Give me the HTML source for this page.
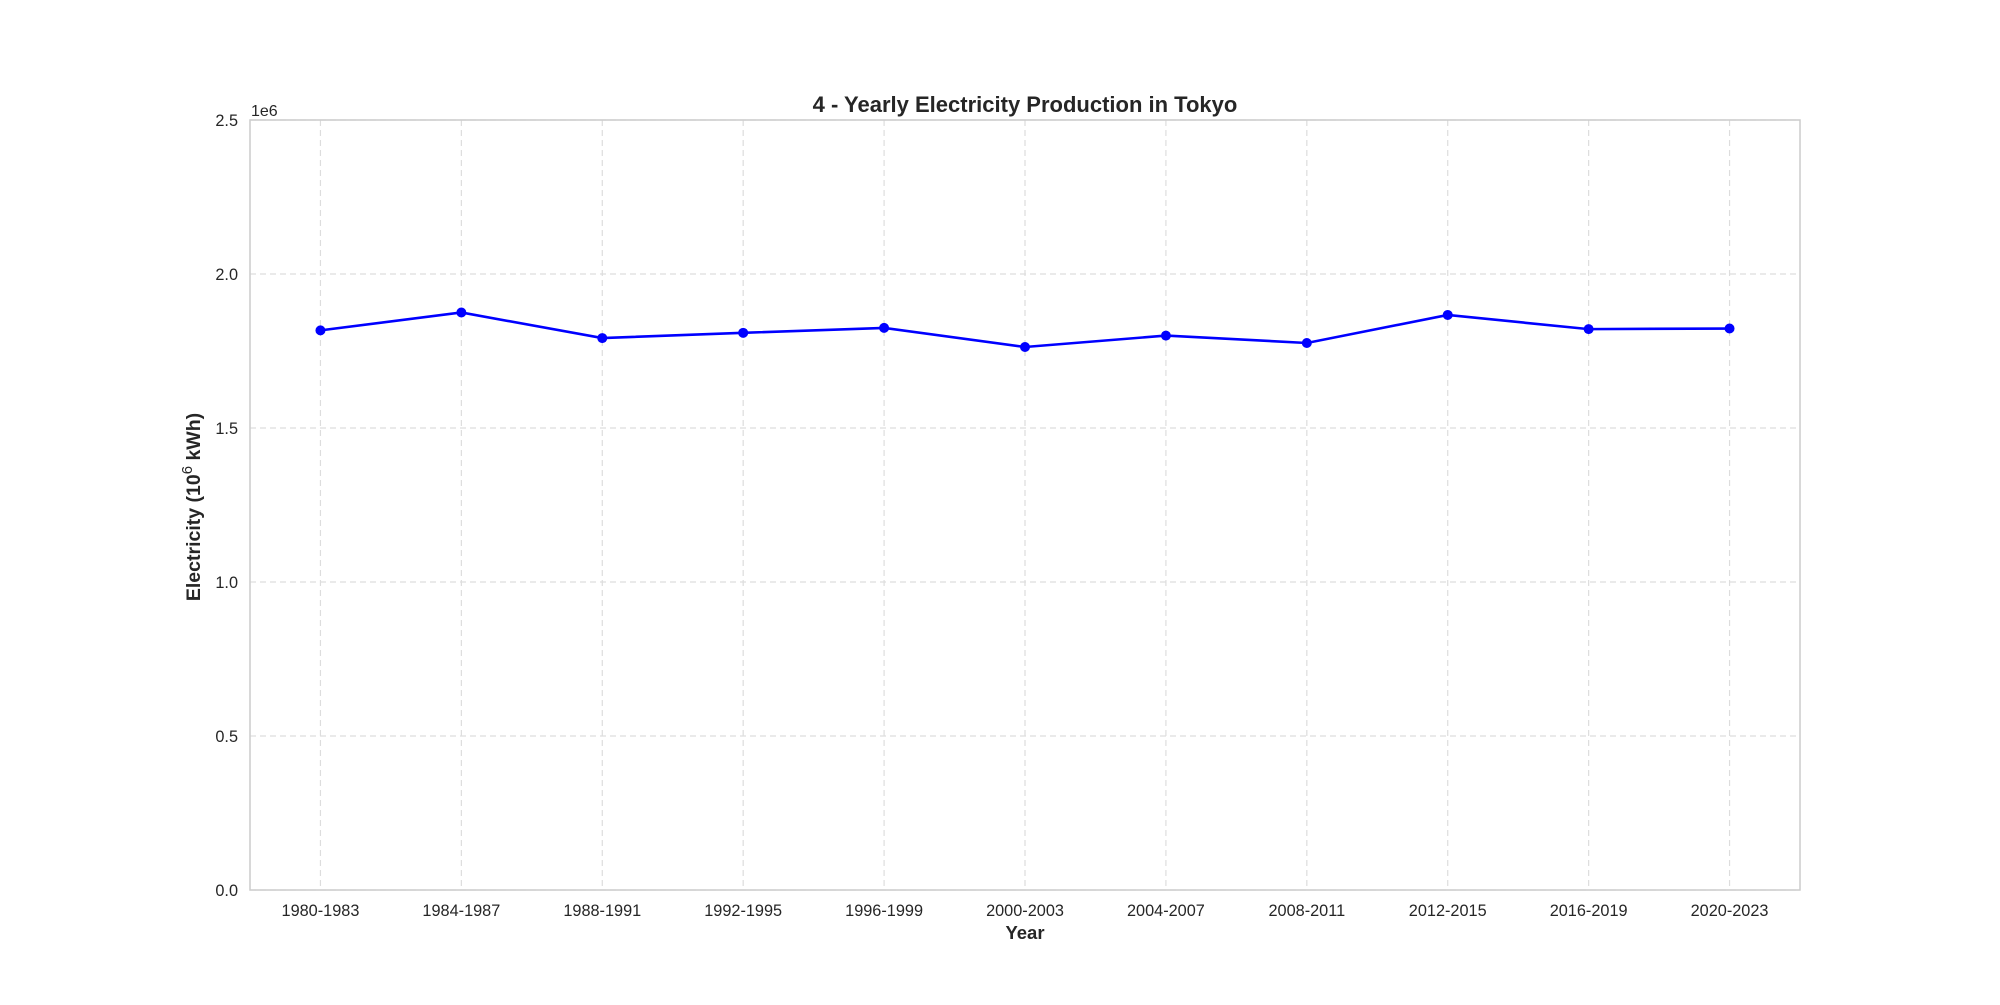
<!DOCTYPE html>
<html><head><meta charset="utf-8"><style>
body{margin:0;background:#fff;font-family:"Liberation Sans",Arial,sans-serif}
svg text{font-family:"Liberation Sans",Arial,sans-serif;fill:#262626}
</style></head><body>
<svg id="chart" width="2000" height="1000" xmlns="http://www.w3.org/2000/svg">
<rect width="2000" height="1000" fill="#fff"/>
<g id="grid"></g>
<g id="axes"></g>
<g id="series"></g>
<text x="1025" y="112" text-anchor="middle" font-size="22" font-weight="bold">4 - Yearly Electricity Production in Tokyo</text>
<text x="1025" y="939" text-anchor="middle" font-size="18.5" font-weight="bold">Year</text>
<text transform="translate(200,507) rotate(-90)" text-anchor="middle" font-size="19.5" font-weight="bold">Electricity (10<tspan dy="-8" font-size="15" font-weight="normal">6</tspan><tspan dy="8"> kWh)</tspan></text>
<text x="251" y="116" font-size="16">1e6</text>
</svg>
<script>
const categories=["1980-1983","1984-1987","1988-1991","1992-1995","1996-1999","2000-2003","2004-2007","2008-2011","2012-2015","2016-2019","2020-2023"];
const values=[1.817,1.875,1.792,1.809,1.825,1.763,1.800,1.776,1.867,1.821,1.823];
const yTicks=[0,0.5,1.0,1.5,2.0,2.5];
const yTickLabels=["0.0","0.5","1.0","1.5","2.0","2.5"];
const L=250,R=1800,T=120,B=890,yMax=2.5;
const NS="http://www.w3.org/2000/svg";
const xs=i=>L+(i+0.5)*(R-L)/categories.length;
const ys=v=>B-v/yMax*(B-T);
function mk(t,a,p){const e=document.createElementNS(NS,t);for(const k in a)e.setAttribute(k,a[k]);p.appendChild(e);return e;}
const grid=document.getElementById('grid'),axes=document.getElementById('axes'),series=document.getElementById('series');
yTicks.forEach((v,i)=>{
  const l=mk('line',{x1:L,x2:R,y1:ys(v),y2:ys(v),stroke:'#dddddd','stroke-dasharray':'6,4','stroke-width':1.2},grid);
  
  
  const t=mk('text',{x:L-12,y:ys(v)+6,'text-anchor':'end','font-size':16.3},axes);
  t.textContent=yTickLabels[i];
  
  
});
categories.forEach((c,i)=>{
  const l=mk('line',{x1:xs(i),x2:xs(i),y1:T,y2:B,stroke:'#dddddd','stroke-dasharray':'6,4','stroke-width':1.2},grid);
  
  
  const t=mk('text',{x:xs(i),y:B+26,'text-anchor':'middle','font-size':16.3},axes);
  t.textContent=c;
  
  
});
const frame=mk('rect',{x:L,y:T,width:R-L,height:B-T,fill:'none',stroke:'#cccccc','stroke-width':1.5},axes);


const line=mk('polyline',{points:values.map((v,i)=>xs(i)+','+ys(v)).join(' '),fill:'none',stroke:'#0000ff','stroke-width':2.6},series);


values.forEach((v,i)=>{
  const c=mk('circle',{cx:xs(i),cy:ys(v),r:5,fill:'#0000ff'},series);
  
  
});
</script>
</body></html>
